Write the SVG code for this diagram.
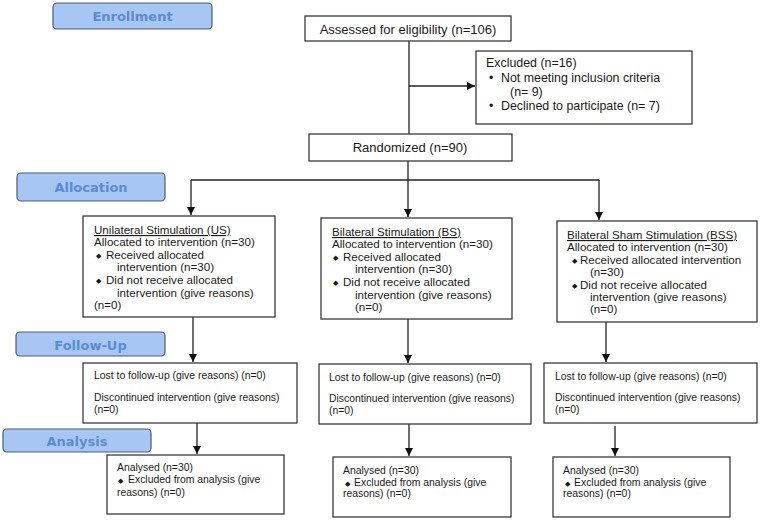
<svg xmlns="http://www.w3.org/2000/svg" width="760" height="520" viewBox="0 0 760 520">
<style>
.box{fill:#fff;stroke:#3a3a3a;stroke-width:1.3}
.lbl{fill:#a8c6f4;stroke:#505a6a;stroke-width:1.2}
.lt{font-family:"DejaVu Sans",sans-serif;font-weight:bold;font-size:13px;fill:#5c8bd3;text-anchor:middle}
.t13{font-family:"Liberation Sans",Arial,sans-serif;font-size:13px;fill:#1a1a1a}
.tx{font-family:"Liberation Sans",Arial,sans-serif;font-size:12.4px;fill:#1a1a1a}
.t12{font-family:"Liberation Sans",Arial,sans-serif;font-size:11.6px;fill:#1a1a1a}
.t10{font-family:"Liberation Sans",Arial,sans-serif;font-size:10.4px;fill:#1a1a1a}
.b{font-size:7px}
.c{fill:none;stroke:#222;stroke-width:1.3}
</style>
<defs>
<marker id="ah" viewBox="0 0 8 8" refX="8" refY="4" markerWidth="8" markerHeight="8" markerUnits="userSpaceOnUse" orient="auto">
<path d="M0,0 L8,4 L0,8 Z" fill="#111"/>
</marker>
</defs>

<g id="lbl-enrollment"><rect class="lbl" x="53" y="3" width="159" height="26" rx="4"/><text class="lt" x="132.5" y="21">Enrollment</text></g>
<g id="lbl-allocation"><rect class="lbl" x="17" y="173" width="148" height="28" rx="4"/><text class="lt" x="91" y="192">Allocation</text></g>
<g id="lbl-followup"><rect class="lbl" x="16" y="332" width="149" height="24" rx="4"/><text class="lt" x="90.5" y="349.5">Follow-Up</text></g>
<g id="lbl-analysis"><rect class="lbl" x="3" y="429" width="148" height="23" rx="4"/><text class="lt" x="77" y="446">Analysis</text></g>

<g id="connectors">
<path class="c" d="M409,41 V134"/>
<path class="c" d="M409,86 H475" marker-end="url(#ah)"/>
<path class="c" d="M408,161 V180"/>
<path class="c" d="M191,180 H599"/>
<path class="c" d="M191,180 V215" marker-end="url(#ah)"/>
<path class="c" d="M408,180 V217" marker-end="url(#ah)"/>
<path class="c" d="M599,180 V220" marker-end="url(#ah)"/>
<path class="c" d="M193,317 V362" marker-end="url(#ah)"/>
<path class="c" d="M197,423 V454" marker-end="url(#ah)"/>
<path class="c" d="M408,319 V363" marker-end="url(#ah)"/>
<path class="c" d="M409,424 V456" marker-end="url(#ah)"/>
<path class="c" d="M606,322 V362" marker-end="url(#ah)"/>
<path class="c" d="M615,426 V456" marker-end="url(#ah)"/>
</g>

<g id="assessed"><rect class="box" x="305" y="16" width="206" height="25"/><text class="t13" x="408" y="34" text-anchor="middle">Assessed for eligibility (n=106)</text></g>

<g id="excluded"><rect class="box" x="476" y="51" width="216" height="73"/>
<text class="tx" x="486" y="67">Excluded (n=16)</text>
<text class="tx" x="489" y="82">•</text><text class="tx" x="501" y="82">Not meeting inclusion criteria</text>
<text class="tx" x="510" y="96">(n= 9)</text>
<text class="tx" x="489" y="110">•</text><text class="tx" x="501" y="110">Declined to participate (n= 7)</text>
</g>

<g id="randomized"><rect class="box" x="309" y="134" width="203" height="27"/><text class="t13" x="410" y="152" text-anchor="middle">Randomized (n=90)</text></g>

<g id="us"><rect class="box" x="83" y="216" width="192" height="101"/>
<text class="t12" x="94" y="234" text-decoration="underline">Unilateral Stimulation (US)</text>
<text class="t12" x="94" y="246">Allocated to intervention (n=30)</text>
<text class="t12 b" x="96" y="258">◆</text><text class="t12" x="106" y="259">Received allocated</text>
<text class="t12" x="117" y="271">intervention (n=30)</text>
<text class="t12 b" x="96" y="283">◆</text><text class="t12" x="106" y="284">Did not receive allocated</text>
<text class="t12" x="117" y="297">intervention (give reasons)</text>
<text class="t12" x="94" y="309">(n=0)</text>
</g>

<g id="bs"><rect class="box" x="321" y="218" width="191" height="101"/>
<text class="t12" x="332" y="236" text-decoration="underline">Bilateral Stimulation (BS)</text>
<text class="t12" x="332" y="248">Allocated to intervention (n=30)</text>
<text class="t12 b" x="333" y="260">◆</text><text class="t12" x="343" y="261">Received allocated</text>
<text class="t12" x="355" y="273">intervention (n=30)</text>
<text class="t12 b" x="333" y="285">◆</text><text class="t12" x="343" y="286">Did not receive allocated</text>
<text class="t12" x="355" y="299">intervention (give reasons)</text>
<text class="t12" x="355" y="311">(n=0)</text>
</g>

<g id="bss"><rect class="box" x="557" y="221" width="200" height="101"/>
<text class="t12" x="567" y="239" text-decoration="underline">Bilateral Sham Stimulation (BSS)</text>
<text class="t12" x="567" y="251">Allocated to intervention (n=30)</text>
<text class="t12 b" x="572" y="263">◆</text><text class="t12" x="580" y="264">Received allocated intervention</text>
<text class="t12" x="590" y="276">(n=30)</text>
<text class="t12 b" x="572" y="288">◆</text><text class="t12" x="580" y="289">Did not receive allocated</text>
<text class="t12" x="590" y="301">intervention (give reasons)</text>
<text class="t12" x="590" y="313">(n=0)</text>
</g>

<g id="us-followup"><rect class="box" x="83" y="363" width="214" height="60"/>
<text class="t10" x="94" y="379">Lost to follow-up (give reasons) (n=0)</text>
<text class="t10" x="94" y="401">Discontinued intervention (give reasons)</text>
<text class="t10" x="94" y="413">(n=0)</text>
</g>
<g id="bs-followup"><rect class="box" x="319" y="364" width="212" height="60"/>
<text class="t10" x="329" y="381">Lost to follow-up (give reasons) (n=0)</text>
<text class="t10" x="329" y="402">Discontinued intervention (give reasons)</text>
<text class="t10" x="329" y="414">(n=0)</text>
</g>
<g id="bss-followup"><rect class="box" x="544" y="363" width="213" height="60"/>
<text class="t10" x="555" y="380">Lost to follow-up (give reasons) (n=0)</text>
<text class="t10" x="555" y="401">Discontinued intervention (give reasons)</text>
<text class="t10" x="555" y="413">(n=0)</text>
</g>

<g id="us-analysis"><rect class="box" x="107" y="455" width="177" height="59"/>
<text class="t10" x="117" y="471">Analysed (n=30)</text>
<text class="t10 b" x="118" y="483">◆</text><text class="t10" x="128" y="483">Excluded from analysis (give</text>
<text class="t10" x="117" y="496">reasons) (n=0)</text>
</g>
<g id="bs-analysis"><rect class="box" x="333" y="457" width="178" height="60"/>
<text class="t10" x="343" y="474">Analysed (n=30)</text>
<text class="t10 b" x="345" y="486">◆</text><text class="t10" x="354" y="486">Excluded from analysis (give</text>
<text class="t10" x="343" y="497">reasons) (n=0)</text>
</g>
<g id="bss-analysis"><rect class="box" x="553" y="457" width="177" height="60"/>
<text class="t10" x="563" y="474">Analysed (n=30)</text>
<text class="t10 b" x="565" y="486">◆</text><text class="t10" x="574" y="486">Excluded from analysis (give</text>
<text class="t10" x="563" y="497">reasons) (n=0)</text>
</g>
</svg>
